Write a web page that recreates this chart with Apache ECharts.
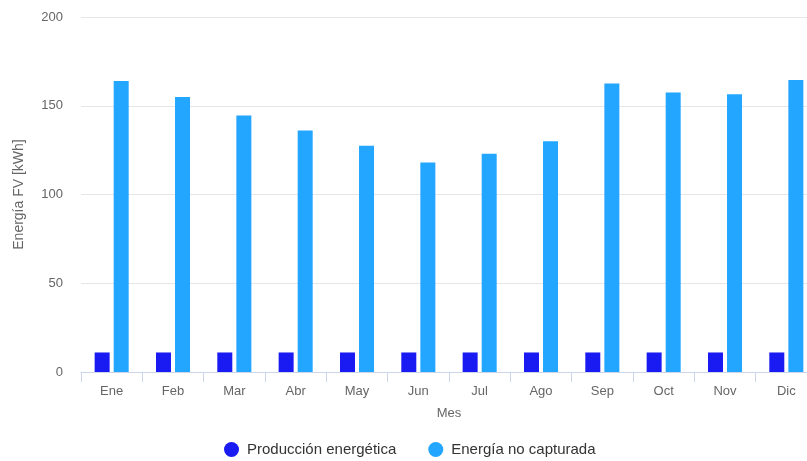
<!DOCTYPE html>
<html>
<head>
<meta charset="utf-8">
<script src="https://cdn.jsdelivr.net/npm/echarts@6/dist/echarts.min.js"></script>
<style>html,body{margin:0;padding:0;background:#fff;}#c{width:807px;height:461px;}</style>
</head>
<body>
<div id="c"></div>
<script>
var categories = ['Ene','Feb','Mar','Abr','May','Jun','Jul','Ago','Sep','Oct','Nov','Dic'];
var produccion = [11, 11, 11, 11, 11, 11, 11, 11, 11, 11, 11, 11];
var noCapturada = [164, 155, 144.5, 136, 127.5, 118, 123, 130, 162.5, 157.5, 156.5, 164.5];
var yTicks = [0, 50, 100, 150, 200];

var chart = echarts.init(document.getElementById('c'));
chart.setOption({
  animation: false,
  textStyle: { fontFamily: 'Liberation Sans, Arial, sans-serif' },
  grid: { left: 81, top: 17, width: 736, bottom: 89, containLabel: false, outerBoundsMode: 'none' },
  legend: {
    top: 437, left: 219,
    icon: 'circle', itemWidth: 15, itemHeight: 15, itemGap: 32,
    textStyle: { fontSize: 15, color: '#333', padding: [0, 0, 0, 3] },
    data: ['Producción energética', 'Energía no capturada']
  },
  xAxis: {
    type: 'category', data: categories,
    name: 'Mes', nameLocation: 'middle', nameGap: 35,
    nameTextStyle: { fontSize: 13, color: '#666' },
    axisLine: { lineStyle: { color: '#ccd6eb' } },
    axisTick: { show: true, length: 10, lineStyle: { color: '#ccd6eb' } },
    axisLabel: { fontSize: 13, color: '#666', margin: 13 }
  },
  yAxis: {
    type: 'value', min: yTicks[0], max: yTicks[yTicks.length - 1], interval: 50,
    name: 'Energía FV [kWh]', nameLocation: 'middle', nameGap: 55, nameRotate: 90,
    nameTextStyle: { fontSize: 14, color: '#666' },
    axisLine: { show: false }, axisTick: { show: false },
    axisLabel: { fontSize: 13, color: '#666', margin: 18 },
    splitLine: { lineStyle: { color: '#e6e6e6' } }
  },
  series: [
    { name: 'Producción energética', type: 'bar', data: produccion, barWidth: 15, barGap: '27%',
      itemStyle: { color: '#1a1af2' } },
    { name: 'Energía no capturada', type: 'bar', data: noCapturada, barWidth: 15,
      itemStyle: { color: '#22a6ff' } }
  ]
});
</script>
</body>
</html>
